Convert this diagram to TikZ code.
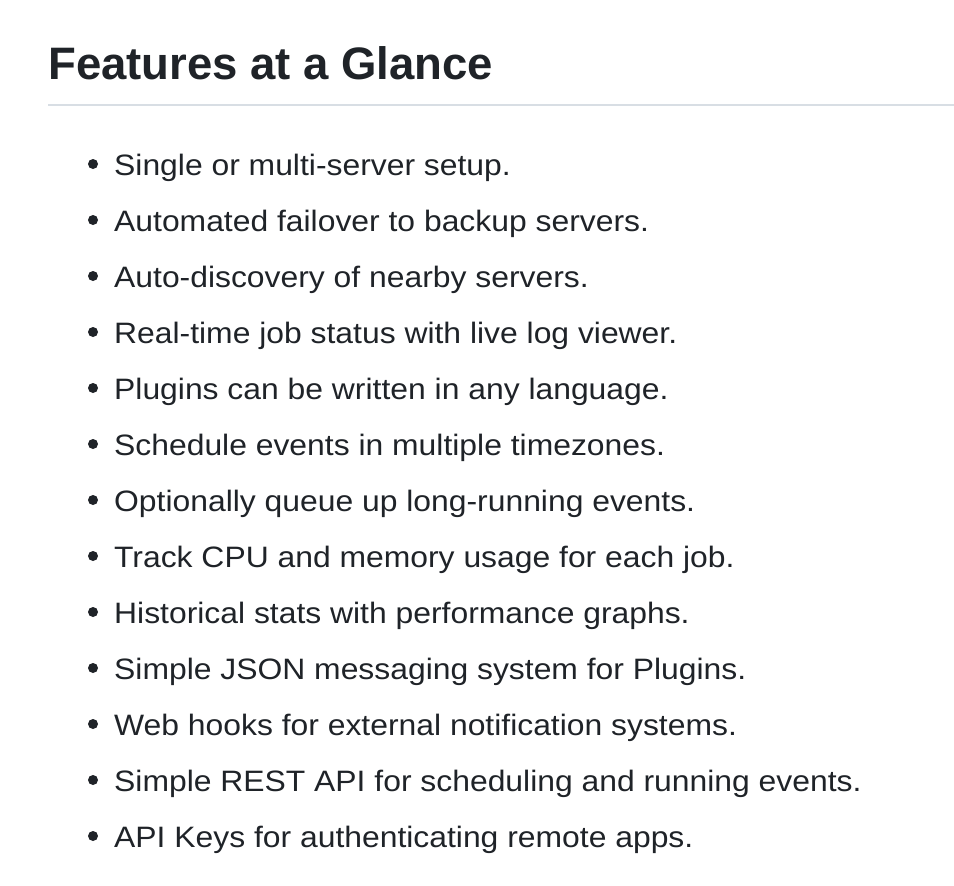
\documentclass[tikz,border=0pt]{standalone}
\usepackage{fontspec}
\setmainfont{Liberation Sans}
\newfontfamily\wide[FakeStretch=1.08]{Liberation Sans}
\definecolor{txt}{HTML}{1F2328}
\definecolor{rulegray}{HTML}{D8DEE4}
\begin{document}
\begin{tikzpicture}[x=1pt,y=-1pt,
  item/.style={anchor=base west,inner sep=0pt,text=txt,font=\wide\fontsize{29.5}{34}\selectfont},
  dot/.style={circle,fill=txt,inner sep=0pt,minimum size=10pt}]
\useasboundingbox[fill=white] (0,0) rectangle (954,886);
\node[anchor=base west,inner sep=0pt,text=txt,font=\fontsize{45.5}{54}\bfseries] (title) at (48,79) {Features at a Glance};
\coordinate (rl) at (48,105);
\coordinate (rr) at (954,105);
\draw[rulegray,line width=1.5pt] (rl) -- (rr);
\foreach \t [count=\i from 0] in {
  Single or multi-server setup.,
  Automated failover to backup servers.,
  Auto-discovery of nearby servers.,
  Real-time job status with live log viewer.,
  Plugins can be written in any language.,
  Schedule events in multiple timezones.,
  Optionally queue up long-running events.,
  Track CPU and memory usage for each job.,
  Historical stats with performance graphs.,
  Simple JSON messaging system for Plugins.,
  Web hooks for external notification systems.,
  Simple REST API for scheduling and running events.,
  API Keys for authenticating remote apps.}{
  \node[item] (t\i) at (114,175+56*\i) {\t};
  \node[dot] (b\i) at (93,175+56*\i-11) {};
}
\end{tikzpicture}
\end{document}
